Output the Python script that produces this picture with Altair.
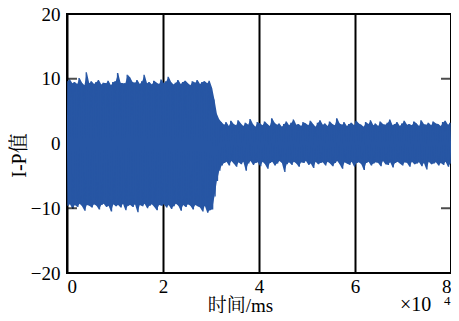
import altair as alt
import pandas as pd

# Upper and lower peak values of the I-P signal
upper_seg1 = [
    9.6, 9.9, 9.3, 9.5, 9.2, 10.1, 9.4, 9.0, 11.0, 9.3,
    9.6, 9.2, 9.5, 9.8, 9.1, 9.4, 9.3, 9.7, 9.0, 9.5,
    9.6, 10.9, 9.4, 9.3, 9.3, 10.6, 10.2, 9.5, 9.4, 9.8,
    9.2, 9.6, 10.6, 9.3, 9.5, 9.1, 9.7, 9.4, 9.2, 9.9,
    9.3, 9.6, 10.3, 9.5, 9.1, 9.4, 9.8, 9.2, 9.5, 9.7,
    9.3, 9.0, 9.6, 9.4, 9.8, 9.2, 9.5, 9.6, 9.3, 9.7,
]
upper_trans = [8.6, 6.8, 4.6, 3.7, 3.3]
upper_seg3 = [
    2.9, 3.3, 2.7, 3.5, 3.0, 2.8, 3.6, 3.1, 2.7, 3.2,
    2.9, 3.8, 3.0, 2.6, 3.3, 3.1, 2.8, 3.4, 3.0, 2.7,
    3.9, 3.2, 2.9, 3.1, 2.6, 3.0, 3.4, 2.8, 3.2, 3.7,
    2.9, 3.0, 2.7, 3.3, 3.1, 2.8, 3.5, 3.0, 2.6, 3.2,
    3.6, 2.9, 3.1, 2.7, 3.4, 3.0, 2.8, 3.9, 3.1, 2.9,
    3.3, 2.7, 3.0, 3.2, 2.8, 3.5, 3.1, 2.9, 2.6, 3.3,
    3.0, 3.6, 2.8, 3.1, 2.7, 3.4, 3.0, 2.9, 3.2, 3.7,
    2.8, 3.0, 3.3, 2.7, 3.1, 3.5, 2.9, 3.0, 2.8, 3.4,
    3.1, 2.7, 3.6, 3.0, 2.9, 3.2, 2.8, 3.4, 3.1, 3.0,
    2.7, 3.3, 3.5, 2.9, 3.2,
]
lower_seg1 = [
    -9.6, -9.4, -10.1, -9.5, -9.8, -9.3, -9.7, -10.4, -9.5, -9.6,
    -9.9, -9.4, -9.6, -10.2, -9.5, -9.3, -9.8, -9.6, -10.5, -9.4,
    -9.7, -9.5, -9.9, -9.3, -10.3, -9.6, -9.5, -9.8, -9.4, -10.6,
    -9.5, -9.7, -9.3, -10.0, -9.6, -9.4, -9.8, -10.3, -9.5, -9.6,
    -9.4, -9.9, -9.5, -10.1, -9.7, -9.3, -9.6, -10.4, -9.5, -9.8,
    -9.4, -9.6, -10.2, -9.5, -9.7, -9.9, -10.5, -9.6, -10.7, -10.3,
]
lower_trans = [-10.2, -8.2, -5.8, -4.2, -3.4]
lower_seg3 = [
    -3.0, -2.8, -3.4, -2.7, -3.1, -3.6, -2.9, -3.2, -2.8, -4.2,
    -3.1, -2.7, -3.3, -3.0, -2.9, -3.5, -2.8, -3.2, -3.9, -3.0,
    -2.8, -3.4, -3.1, -2.7, -3.0, -4.4, -3.2, -2.9, -3.3, -2.8,
    -3.1, -3.6, -2.9, -3.0, -2.7, -3.3, -3.1, -3.8, -2.8, -3.2,
    -3.0, -2.9, -3.4, -2.8, -3.1, -3.5, -3.0, -2.7, -3.2, -3.9,
    -2.9, -3.1, -3.3, -2.8, -3.6, -3.0, -2.9, -3.2, -4.1, -3.0,
    -2.8, -3.4, -3.1, -2.9, -3.0, -3.5, -2.7, -3.2, -3.3, -2.9,
    -3.7, -3.0, -2.8, -3.1, -3.4, -2.9, -3.0, -3.6, -2.8, -3.2,
    -3.1, -2.9, -3.5, -3.0, -4.0, -2.8, -3.2, -3.1, -2.9, -3.4,
    -3.0, -3.3, -2.8, -3.6, -3.1,
]
x_ticks = [0, 20000, 40000, 60000, 80000]
y_ticks = [-20, -10, 0, 10, 20]
inner_ticks = [-10, 10]

upper = upper_seg1 + upper_trans + upper_seg3
lower = lower_seg1 + lower_trans + lower_seg3
n = min(len(upper), len(lower))
step = 80000 / (n - 0.5)
rows = []
band_rows = []
for i in range(n):
    rows.append({"t": i * step, "v": upper[i], "o": 2 * i})
    rows.append({"t": (i + 0.5) * step, "v": lower[i], "o": 2 * i + 1})
    band_rows.append({"t": (i + 0.25) * step, "up": upper[i], "lo": lower[i]})
df = pd.DataFrame(rows)
band = pd.DataFrame(band_rows)

FONT = "Liberation Serif, Noto Serif CJK SC, Noto Sans CJK SC"
BLUE = "#2756a4"

xscale = alt.Scale(domain=[0, 80000], nice=False, zero=False)
yscale = alt.Scale(domain=[-20, 20], nice=False)

xaxis = alt.Axis(values=x_ticks, labelExpr="datum.value / 10000",
                 grid=True, gridColor="black", gridWidth=2, gridOpacity=1,
                 ticks=False, domain=False, labelPadding=4,
                 labelFontSize=19, labelFont=FONT, labelColor="black",
                 title="时间/ms", titleFont=FONT, titleFontSize=19,
                 titleFontWeight="normal", titleColor="black",
                 titleX=173, titleY=32, titleBaseline="middle")
yaxis = alt.Axis(values=y_ticks, grid=False, ticks=False, domain=False,
                 labelPadding=7, labelFontSize=19, labelFont=FONT,
                 labelColor="black",
                 title="I-P值", titleFont=FONT, titleFontSize=20,
                 titleFontWeight="normal", titleColor="black",
                 titleX=-48, titleY=141, titleBaseline="middle")

area = alt.Chart(band).mark_area(color=BLUE, opacity=1, clip=True).encode(
    x=alt.X("t:Q", scale=xscale, axis=xaxis),
    y=alt.Y("up:Q", scale=yscale, axis=yaxis),
    y2="lo:Q",
)

line = alt.Chart(df).mark_line(color=BLUE, strokeWidth=1.3, clip=True).encode(
    x=alt.X("t:Q", scale=xscale),
    y=alt.Y("v:Q", scale=yscale),
    order="o:Q",
)

tick_df = pd.DataFrame({"y": inner_ticks * 2, "x": [0, 0, 80000, 80000]})
ticks = alt.Chart(tick_df).mark_tick(color="black", thickness=2, size=20,
                                     orient="horizontal", clip=True).encode(
    x=alt.X("x:Q", scale=xscale), y=alt.Y("y:Q", scale=yscale)
)

times = alt.Chart(pd.DataFrame({"a": [0]})).mark_text(
    text="×10", font=FONT, fontSize=20, align="left", baseline="alphabetic",
    color="black").encode(x=alt.value(333), y=alt.value(297))
sup = alt.Chart(pd.DataFrame({"a": [0]})).mark_text(
    text="4", font=FONT, fontSize=13, align="left", baseline="alphabetic",
    color="black").encode(x=alt.value(377), y=alt.value(291))

chart = alt.layer(area, line, ticks, times, sup).properties(
    width=384, height=259,
    padding={"left": 59, "top": 6, "right": 0, "bottom": 40},
    autosize="none",
).configure_view(stroke="black", strokeWidth=2)

chart.save("out.html", embed_options={"renderer": "svg", "actions": False})
